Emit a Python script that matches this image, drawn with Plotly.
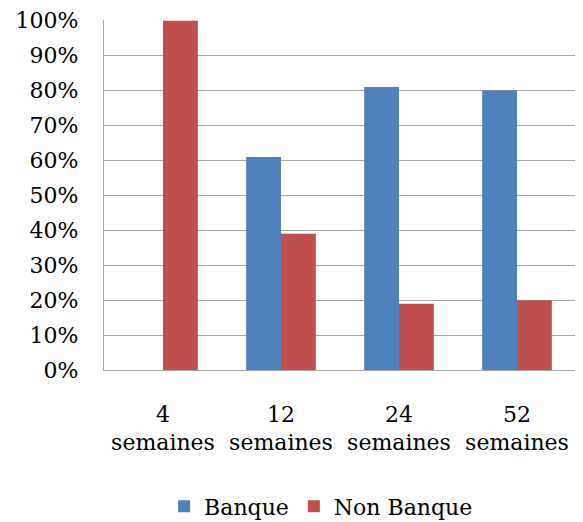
import plotly.graph_objects as go

categories = ["4<br>semaines", "12<br>semaines", "24<br>semaines", "52<br>semaines"]
banque = [0, 61, 81, 80]
non_banque = [100, 39, 19, 20]
y_ticks = [0, 10, 20, 30, 40, 50, 60, 70, 80, 90, 100]
y_tick_labels = [f"{v}%" for v in y_ticks]

font_family = "DejaVu Serif"

fig = go.Figure()
fig.add_trace(go.Bar(name="Banque", x=categories, y=banque, marker=dict(color="#4F81BD", line=dict(width=0))))
fig.add_trace(go.Bar(name="Non Banque", x=categories, y=non_banque, marker=dict(color="#C0504D", line=dict(width=0))))

fig.update_layout(
    width=575, height=514,
    margin=dict(l=96, r=7, t=12, b=152, autoexpand=False),
    paper_bgcolor="white", plot_bgcolor="white",
    barmode="group", bargap=0.41, bargroupgap=0,
    font=dict(family=font_family, size=22, color="black"),
    showlegend=True,
    legend=dict(orientation="h", x=0.46, xanchor="center", y=-0.39, yanchor="middle",
                font=dict(size=22), itemwidth=30, traceorder="normal"),
)
fig.update_yaxes(range=[0, 100.2], tickvals=y_ticks, ticktext=y_tick_labels,
                 showgrid=True, gridcolor="#A6A6A6", gridwidth=1.3,
                 showline=True, linecolor="#A6A6A6", linewidth=1.3,
                 ticks="", ticklabelstandoff=20, zeroline=False, fixedrange=True,
                 automargin=False)
fig.update_xaxes(showline=True, linecolor="#A6A6A6", linewidth=1.3,
                 ticks="", ticklabelstandoff=24, showgrid=False, automargin=False)

fig.write_html("out.html")
